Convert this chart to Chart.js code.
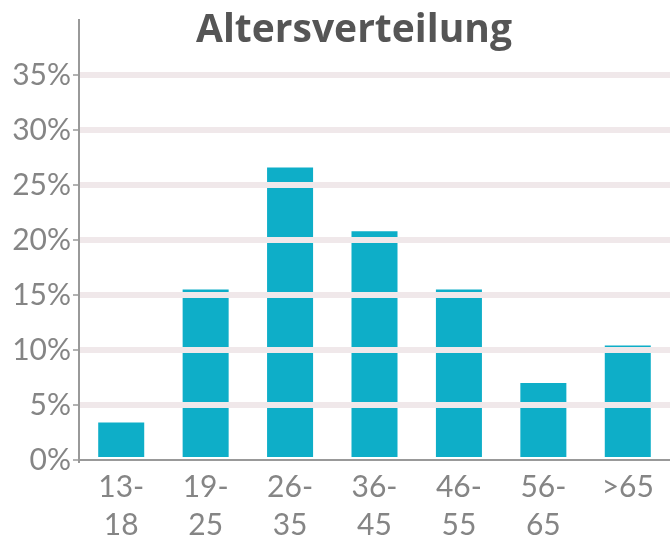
<!DOCTYPE html>
<html>
<head>
<meta charset="utf-8">
<script src="https://cdn.jsdelivr.net/npm/chart.js@4"></script>
<style>
    html, body { margin: 0; padding: 0; background: #fff; }
    #wrap { width: 670px; height: 539px; }
</style>
</head>
<body>
<div id="wrap"><canvas id="ageChart"></canvas></div>
<script>
// Age groups and share of respondents (%)
const ageGroups = [['13-', '18'], ['19-', '25'], ['26-', '35'], ['36-', '45'], ['46-', '55'], ['56-', '65'], ['>65']];
const shares = [3.4, 15.5, 26.6, 20.8, 15.5, 7.0, 10.4];
const chartTitle = 'Altersverteilung';

// Title drawn inside the plot area, like the original
const titlePlugin = {
    id: 'innerTitle',
    afterDraw(chart) {
        const ctx = chart.ctx;
        ctx.save();
        ctx.font = 'bold 39px "Open Sans"';
        ctx.fillStyle = '#555555';
        ctx.textAlign = 'center';
        ctx.textBaseline = 'alphabetic';
        ctx.fillText(chartTitle, 354, 42);
        ctx.restore();
    }
};

new Chart(document.getElementById('ageChart'), {
    type: 'bar',
    data: {
        labels: ageGroups,
        datasets: [{
            data: shares,
            backgroundColor: '#0eaec8',
            borderWidth: 0,
            barPercentage: 0.545,
            categoryPercentage: 1
        }]
    },
    options: {
        responsive: true,
        maintainAspectRatio: false,
        animation: false,
        layout: { padding: { top: 15, right: 0, left: 0, bottom: 0 } },
        plugins: {
            legend: { display: false },
            tooltip: { enabled: false }
        },
        scales: {
            x: {
                grid: { display: false },
                border: { display: true, color: '#999999', width: 2 },
                ticks: {
                    color: '#858585',
                    font: { family: 'Lato', size: 30, lineHeight: 1.27 },
                    padding: 0,
                    maxRotation: 0
                },
                afterFit: s => { s.height = 79; }
            },
            y: {
                min: 0,
                max: 40,
                grid: {
                    z: 1,
                    lineWidth: 6,
                    color: c => (c.tick && (c.tick.value === 0 || c.tick.value === 40)) ? 'rgba(0,0,0,0)' : '#f0e8ea',
                    tickColor: c => (c.tick && c.tick.value === 40) ? 'rgba(0,0,0,0)' : '#999999',
                    tickWidth: 1.5,
                    tickLength: 6
                },
                border: { display: true, color: '#999999', width: 2, z: 2 },
                ticks: {
                    stepSize: 5,
                    color: '#858585',
                    padding: 2,
                    font: { family: 'Lato', size: 30 },
                    callback: v => v === 40 ? '' : v + '%'
                },
                afterFit: s => { s.width = 79; }
            }
        }
    },
    plugins: [titlePlugin]
});
</script>
</body>
</html>
